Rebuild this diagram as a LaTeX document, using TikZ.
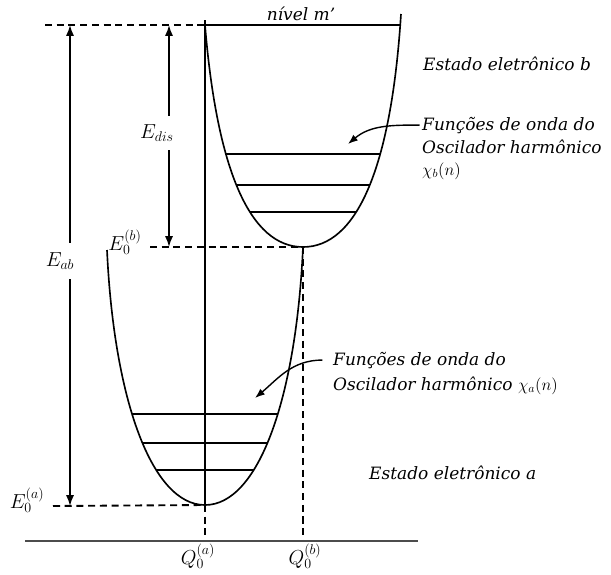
\documentclass[tikz,border=0pt]{standalone}
\usepackage{fontspec}
\setmainfont{DejaVu Serif}
\usetikzlibrary{arrows.meta,positioning}

\begin{document}
\begin{tikzpicture}[>=Latex,x=0.03cm,y=-0.03cm]
  \tikzstyle{curva}=[line width=1.4pt]
  \tikzstyle{nivel}=[line width=2pt]
  \tikzstyle{tracejado}=[line width=1.6pt,dash pattern=on 6pt off 4pt]
  \tikzstyle{cota}=[line width=1.4pt,<->]
  \tikzstyle{texto}=[font=\fontsize{14.5}{17}\selectfont\itshape,inner sep=0pt]
  \tikzstyle{mat}=[font=\fontsize{16.5}{19}\selectfont,inner sep=1pt]
  \useasboundingbox (0,0) rectangle (611,574);

  % pontos das curvas
  \coordinate (minA) at (205,505);
  \coordinate (minB) at (303,247);
  \coordinate (bEsq) at (205,25);
  \coordinate (bDir) at (401,14);
  \coordinate (aEsq) at (107,250);
  \coordinate (qa) at (205,541);
  \coordinate (qb) at (303,541);
  \coordinate (eixoIni) at (25,541);
  \coordinate (eixoFim) at (418,541);
  \coordinate (linhaTopo) at (205,20);
  \coordinate (tracoTopo) at (45,25);
  \coordinate (tracoB) at (150,247);
  \coordinate (tracoA) at (53,506);

  % parabolas
  \draw[curva] (bEsq) .. controls (217,170) and (250,247) .. (minB)
    .. controls (356,247) and (391,170) .. (bDir);
  \draw[curva] (aEsq) .. controls (114,400) and (152,505) .. (minA)
    .. controls (258,505) and (296,400) .. (minB);
  \draw[curva] (bEsq) -- (bEsq -| bDir);
  \draw[curva] (linhaTopo) -- (minA);

  % niveis vibracionais
  \begin{scope}
    \clip (bEsq) .. controls (217,170) and (250,247) .. (minB)
      .. controls (356,247) and (391,170) .. (bDir) -- cycle;
    \foreach \y in {154,185,212} \draw[nivel] (190,\y) -- (420,\y);
  \end{scope}
  \begin{scope}
    \clip (aEsq) .. controls (114,400) and (152,505) .. (minA)
      .. controls (258,505) and (296,400) .. (minB) -- cycle;
    \foreach \y in {414,443,470} \draw[nivel] (90,\y) -- (320,\y);
  \end{scope}

  % tracejados e eixo
  \draw[tracejado] (tracoTopo) -- (bEsq);
  \draw[tracejado] (tracoB) -- (minB);
  \draw[tracejado] (tracoA) -- (minA);
  \draw[tracejado] (minA) -- (qa);
  \draw[tracejado] (minB) -- (qb);
  \draw[line width=2pt,black!70] (eixoIni) -- (eixoFim);

  % energias
  \coordinate (eabTopo) at (70,25);
  \coordinate (eabBase) at (70,506);
  \coordinate (edTopo) at (169,25);
  \coordinate (edBase) at (169,247);
  \draw[cota] (eabTopo) -- node[mat,fill=white,pos=0.49,xshift=-0.3cm,inner ysep=8pt] (eab) {$E_{ab}$} (eabBase);
  \draw[cota] (edTopo) -- node[mat,fill=white,pos=0.487,xshift=-0.36cm,inner ysep=7pt] (edis) {$E_{dis}$} (edBase);
  \node[mat] (e0b) at (125,242) {$E_0^{(b)}$};
  \node[mat] (e0a) at (27,500) {$E_0^{(a)}$};
  \node[mat] (q0a) at (198,556) {$Q_0^{(a)}$};
  \node[mat] (q0b) at (305,556) {$Q_0^{(b)}$};

  % textos
  \node[texto,anchor=base] (nivelm) at (301,20) {nível m’};
  \node[texto,anchor=base west] (estB) at (423,70) {Estado eletrônico b};
  \node[texto,anchor=base west] (fB1) at (422,130) {Funções de onda do};
  \node[texto,anchor=base west] (fB2) at ([yshift=-0.69cm]fB1.base west) {Oscilador harmônico};
  \node[texto,anchor=base west] (fB3) at ([yshift=-0.66cm]fB2.base west) {$\chi_b(n)$};
  \node[texto,anchor=base west] (fA1) at (333,365) {Funções de onda do};
  \node[texto,anchor=base west] (fA2) at ([yshift=-0.75cm]fA1.base west) {Oscilador harmônico $\chi_a(n)$};
  \node[texto,anchor=base west] (estA) at (369,479) {Estado eletrônico a};

  \coordinate (alvoB) at (348,144);
  \coordinate (alvoA) at (255,398);
  \draw[line width=1.2pt,->] ([xshift=-2pt]fB1.west) to[out=180,in=40] (alvoB);
  \draw[line width=1.2pt,->] ([xshift=-9pt]fA1.west) to[out=180,in=40] (alvoA);
\end{tikzpicture}
\end{document}
